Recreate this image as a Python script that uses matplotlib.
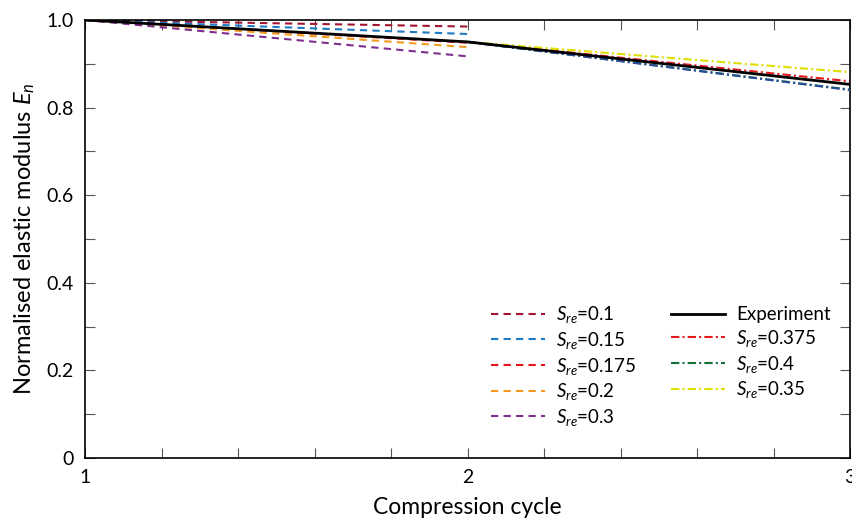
import numpy as np
import matplotlib.pyplot as plt
from matplotlib.ticker import MultipleLocator

plt.rcParams["font.family"] = ["Lato", "DejaVu Sans"]
plt.rcParams["mathtext.fontset"] = "custom"
plt.rcParams["mathtext.rm"] = "Lato"
plt.rcParams["mathtext.it"] = "Lato:italic"

# experiment
exp_cycle = [1, 2, 3]
exp_en = [1.0, 0.950, 0.853]

# first-stage predictions (cycle 1 -> 2)
stage1_cycle = [1, 2]
stage1_sre = ["0.1", "0.15", "0.175", "0.2", "0.3"]
stage1_end = [0.985, 0.968, 0.948, 0.938, 0.917]
stage1_colors = ["#a2142f", "#1f7ac4", "#e8141c", "#f29a1d", "#7e2f8e"]

# second-stage predictions (cycle 2 -> 3)
stage2_cycle = [2, 3]
stage2_sre = ["0.375", "0.4", "0.35"]
stage2_end = [0.860, 0.841, 0.881]
stage2_colors = ["#e31a1c", "#17703a", "#e0e000"]
blue_end = 0.840


def main():
    fig = plt.figure(figsize=(8.53, 5.18), dpi=100)
    ax = fig.add_axes([0.0997, 0.1158, 0.8968, 0.8456])

    handles = []
    for s, e, c in zip(stage1_sre, stage1_end, stage1_colors):
        h, = ax.plot(stage1_cycle, [1.0, e], ls=(0, (3.5, 2.5)), color=c, lw=1.5,
                     label=r"$S_{re}$=" + s)
        handles.append(h)

    h_exp, = ax.plot(exp_cycle, exp_en, color="black", lw=2, label="Experiment", zorder=5)
    handles.append(h_exp)

    for s, e, c in zip(stage2_sre, stage2_end, stage2_colors):
        h, = ax.plot(stage2_cycle, [exp_en[1], e], ls=(0, (4, 1.5, 1, 1.5)), color=c,
                     lw=1.5, label=r"$S_{re}$=" + s)
        handles.append(h)
    ax.plot(stage2_cycle, [exp_en[1], blue_end], ls=(0, (4, 1.5, 1, 1.5)),
            color="#2a4d9e", lw=1.5, zorder=4)

    ax.set_xlim(1, 3)
    ax.set_ylim(0, 1.0)
    ax.set_xticks([1, 2, 3])
    ax.set_yticks([0, 0.2, 0.4, 0.6, 0.8, 1.0])
    ax.set_yticklabels(["0", "0.2", "0.4", "0.6", "0.8", "1.0"])
    ax.xaxis.set_minor_locator(MultipleLocator(0.2))
    ax.yaxis.set_minor_locator(MultipleLocator(0.1))
    ax.tick_params(which="both", direction="in", top=True, right=True, labelsize=14,
                   width=0.8, color="#555555")
    ax.tick_params(which="major", length=7)
    ax.tick_params(which="minor", length=7)
    ax.tick_params(axis="x", pad=8)
    ax.tick_params(axis="y", pad=8)
    for sp in ax.spines.values():
        sp.set_linewidth(1.2)

    ax.set_xlabel("Compression cycle", fontsize=16.5, labelpad=8)
    ax.set_ylabel(r"Normalised elastic modulus $E_n$", fontsize=17, labelpad=7)

    ax.legend(handles=handles, ncol=2, frameon=False, fontsize=13.5,
              loc="lower right", bbox_to_anchor=(0.997, 0.03),
              handlelength=2.9, handletextpad=0.6, columnspacing=1.8,
              labelspacing=0.25)

    fig.savefig("out.png")


if __name__ == "__main__":
    main()
